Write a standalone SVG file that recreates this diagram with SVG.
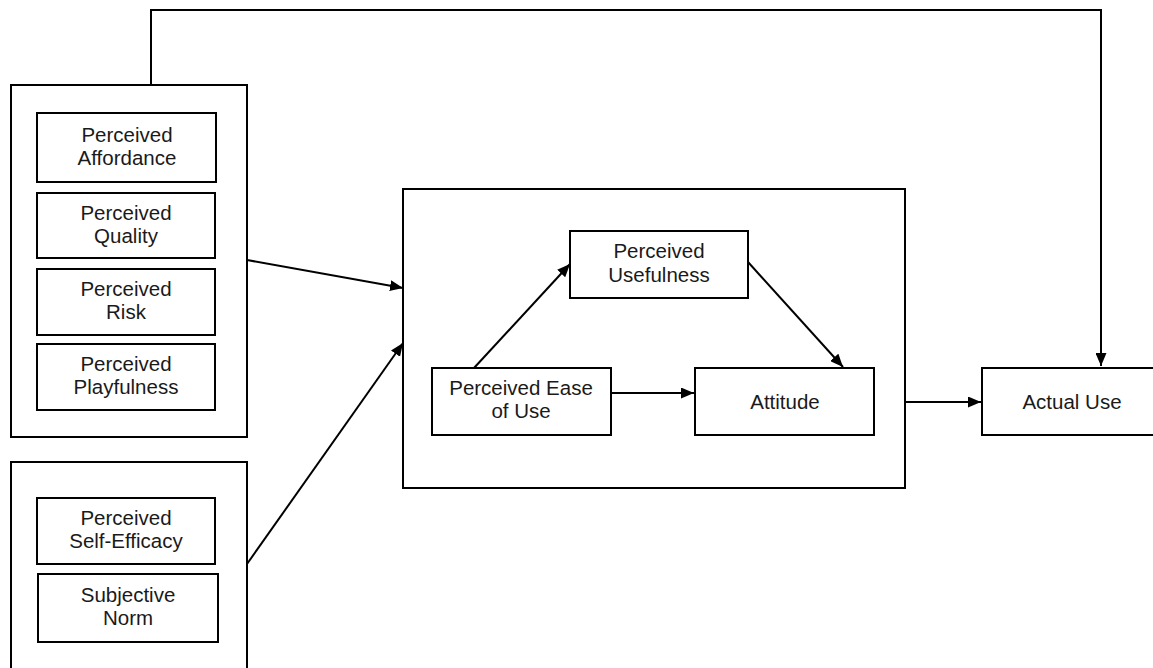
<svg xmlns="http://www.w3.org/2000/svg" width="1153" height="668" viewBox="0 0 1153 668">
<defs>
<marker id="arr" viewBox="0 0 13 11" refX="13" refY="5.5" markerWidth="13" markerHeight="11" markerUnits="userSpaceOnUse" orient="auto">
<path d="M0,0 L13,5.5 L0,11 z" fill="#000"/>
</marker>
<style>
.box{fill:#fff;stroke:#000;stroke-width:2}
.grp{fill:none;stroke:#000;stroke-width:2}
.lbl{font-family:"Liberation Sans",Arial,sans-serif;font-size:20.5px;fill:#1a1a1a;text-anchor:middle}
.con{fill:none;stroke:#000;stroke-width:2}
</style>
</defs>
<rect width="1153" height="668" fill="#fff"/>
<g id="connectors">
<path class="con" d="M151,85 V10 H1101 V366" marker-end="url(#arr)"/>
<line class="con" x1="247" y1="260" x2="403" y2="288" marker-end="url(#arr)"/>
<line class="con" x1="247" y1="564" x2="403" y2="343" marker-end="url(#arr)"/>
<line class="con" x1="474" y1="368" x2="570" y2="264" marker-end="url(#arr)"/>
<line class="con" x1="748" y1="262" x2="843" y2="367" marker-end="url(#arr)"/>
<line class="con" x1="611" y1="393" x2="694" y2="393" marker-end="url(#arr)"/>
<line class="con" x1="905" y1="402" x2="981" y2="402" marker-end="url(#arr)"/>
</g>
<g id="group-perceptions"><rect class="grp" x="11" y="85" width="236" height="352"/></g>
<g id="group-personal"><rect class="grp" x="11" y="462" width="236" height="220"/></g>
<g id="group-tam"><rect class="grp" x="403" y="189" width="502" height="299"/></g>
<g id="perceived-affordance"><rect class="box" x="37" y="113" width="179" height="69"/>
<text class="lbl" x="127" y="142">Perceived</text><text class="lbl" x="127" y="165">Affordance</text></g>
<g id="perceived-quality"><rect class="box" x="37" y="193" width="178" height="65"/>
<text class="lbl" x="126" y="220">Perceived</text><text class="lbl" x="126" y="243">Quality</text></g>
<g id="perceived-risk"><rect class="box" x="37" y="269" width="178" height="66"/>
<text class="lbl" x="126" y="296">Perceived</text><text class="lbl" x="126" y="319">Risk</text></g>
<g id="perceived-playfulness"><rect class="box" x="37" y="344" width="178" height="66"/>
<text class="lbl" x="126" y="371">Perceived</text><text class="lbl" x="126" y="394">Playfulness</text></g>
<g id="perceived-self-efficacy"><rect class="box" x="37" y="498" width="178" height="66"/>
<text class="lbl" x="126" y="525">Perceived</text><text class="lbl" x="126" y="548">Self-Efficacy</text></g>
<g id="subjective-norm"><rect class="box" x="38" y="574" width="180" height="68"/>
<text class="lbl" x="128" y="602">Subjective</text><text class="lbl" x="128" y="625">Norm</text></g>
<g id="perceived-usefulness"><rect class="box" x="570" y="231" width="178" height="67"/>
<text class="lbl" x="659" y="258">Perceived</text><text class="lbl" x="659" y="282">Usefulness</text></g>
<g id="perceived-ease-of-use"><rect class="box" x="432" y="368" width="179" height="67"/>
<text class="lbl" x="521" y="395">Perceived Ease</text><text class="lbl" x="521" y="418">of Use</text></g>
<g id="attitude"><rect class="box" x="695" y="368" width="179" height="67"/>
<text class="lbl" x="785" y="409">Attitude</text></g>
<g id="actual-use"><rect class="box" x="982" y="368" width="178" height="67"/>
<text class="lbl" x="1072" y="409">Actual Use</text></g>
</svg>
